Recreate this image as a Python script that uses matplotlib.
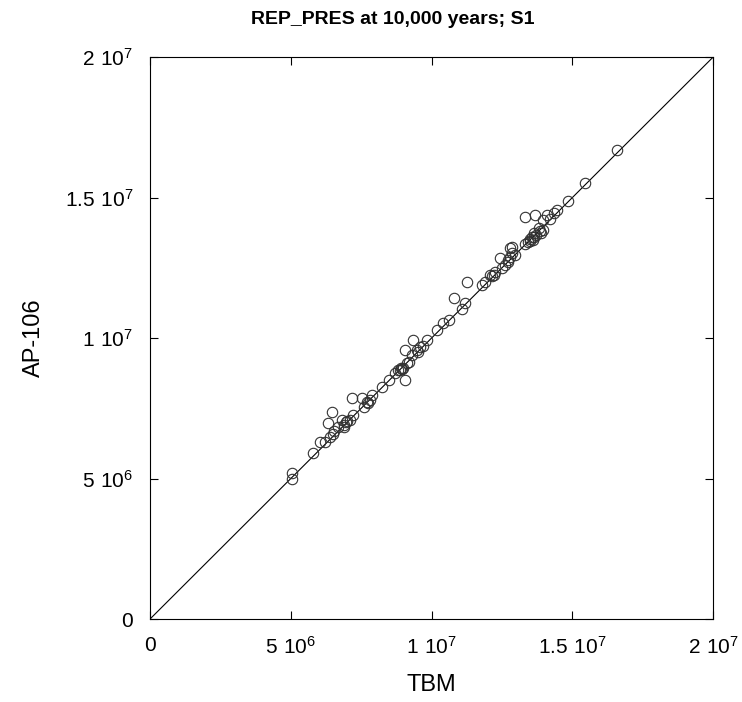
import numpy as np
import matplotlib
matplotlib.use('Agg')
import matplotlib.pyplot as plt

plt.rcParams['font.family'] = ['Liberation Sans', 'DejaVu Sans']
plt.rcParams['mathtext.fontset'] = 'custom'
plt.rcParams['mathtext.rm'] = 'Liberation Sans'

# TBM vs AP-106 repository pressure (Pa)
tbm = [5.03e6, 5.05e6, 5.80e6, 6.04e6, 6.20e6, 6.39e6, 6.45e6, 6.33e6, 6.50e6, 6.68e6,
       6.81e6, 6.90e6, 6.95e6, 7.00e6, 7.10e6, 7.22e6, 7.16e6, 7.52e6, 7.60e6, 7.70e6,
       7.80e6, 7.87e6, 8.23e6, 8.47e6, 8.70e6, 8.80e6, 8.88e6, 9.06e6, 9.12e6, 9.06e6,
       9.20e6, 9.30e6, 9.47e6, 9.35e6, 9.59e6, 9.70e6, 9.83e6, 10.18e6, 10.42e6, 10.6e6,
       10.78e6, 11.07e6, 11.19e6, 11.25e6, 11.78e6, 11.90e6, 12.08e6, 12.15e6, 12.26e6, 12.43e6,
       12.49e6, 12.60e6, 12.73e6, 12.85e6, 12.85e6, 12.97e6, 12.79e6, 12.79e6, 13.30e6, 13.44e6,
       13.50e6, 13.55e6, 13.62e6, 13.70e6, 13.97e6, 13.97e6, 13.32e6, 13.68e6, 13.85e6, 14.09e6,
       14.33e6, 14.44e6, 14.86e6, 15.45e6, 16.58e6, 13.60e6, 13.90e6, 8.95e6, 9.00e6, 6.55e6,
       6.90e6, 7.75e6, 8.90e6, 9.50e6, 12.20e6, 12.70e6, 13.50e6, 13.65e6, 13.80e6, 14.20e6]
ap106 = [5.18e6, 5.00e6, 5.90e6, 6.31e6, 6.30e6, 6.49e6, 7.38e6, 6.96e6, 6.60e6, 6.84e6,
         7.08e6, 6.90e6, 7.00e6, 7.05e6, 7.10e6, 7.26e6, 7.85e6, 7.85e6, 7.55e6, 7.73e6,
         7.80e6, 7.97e6, 8.27e6, 8.51e6, 8.74e6, 8.85e6, 8.86e6, 8.51e6, 9.10e6, 9.57e6,
         9.15e6, 9.40e6, 9.57e6, 9.93e6, 9.69e6, 9.70e6, 9.93e6, 10.28e6, 10.52e6, 10.64e6,
         11.41e6, 11.05e6, 11.23e6, 12.00e6, 11.89e6, 12.00e6, 12.24e6, 12.20e6, 12.36e6, 12.83e6,
         12.48e6, 12.60e6, 12.78e6, 13.01e6, 13.25e6, 12.95e6, 13.19e6, 12.90e6, 13.35e6, 13.43e6,
         13.54e6, 13.60e6, 13.72e6, 13.65e6, 13.84e6, 14.20e6, 14.32e6, 14.38e6, 13.80e6, 14.38e6,
         14.44e6, 14.56e6, 14.86e6, 15.50e6, 16.69e6, 13.50e6, 13.75e6, 8.90e6, 8.95e6, 6.70e6,
         6.85e6, 7.70e6, 8.95e6, 9.50e6, 12.25e6, 12.70e6, 13.45e6, 13.60e6, 13.90e6, 14.25e6]

ticks = [0, 5e6, 1e7, 1.5e7, 2e7]
tick_labels = ['0', r'$\mathregular{5\ 10^{6}}$', r'$\mathregular{1\ 10^{7}}$',
               r'$\mathregular{1.5\ 10^{7}}$', r'$\mathregular{2\ 10^{7}}$']

fig = plt.figure(figsize=(7.42, 7.02), dpi=100)
ax = fig.add_axes([0.2022, 0.1182, 0.759, 0.8006])

ax.plot([0, 2e7], [0, 2e7], color='black', lw=0.8, zorder=1)
ax.plot(tbm, ap106, 'o', mfc='none', mec='#333333', mew=0.8, ms=7.5, zorder=2)

ax.set_xlim(0, 2e7)
ax.set_ylim(0, 2e7)
ax.set_xticks(ticks)
ax.set_yticks(ticks)
ax.set_xticklabels(tick_labels, fontsize=15)
ax.set_yticklabels(tick_labels, fontsize=15)
ax.tick_params(direction='in', length=6, width=0.8, top=True, right=True, pad=12)
for s in ax.spines.values():
    s.set_linewidth(0.8)

ax.set_xlabel('TBM', fontsize=17, labelpad=12)
ax.set_ylabel('AP-106', fontsize=17, labelpad=14)
# title in the original sits a bit left of the axes centre
fig.text(393 / 742, 1 - 20 / 702, 'REP_PRES at 10,000 years; S1', fontsize=14,
         fontweight='bold', ha='center', va='center')

fig.savefig('out.png', dpi=100)
